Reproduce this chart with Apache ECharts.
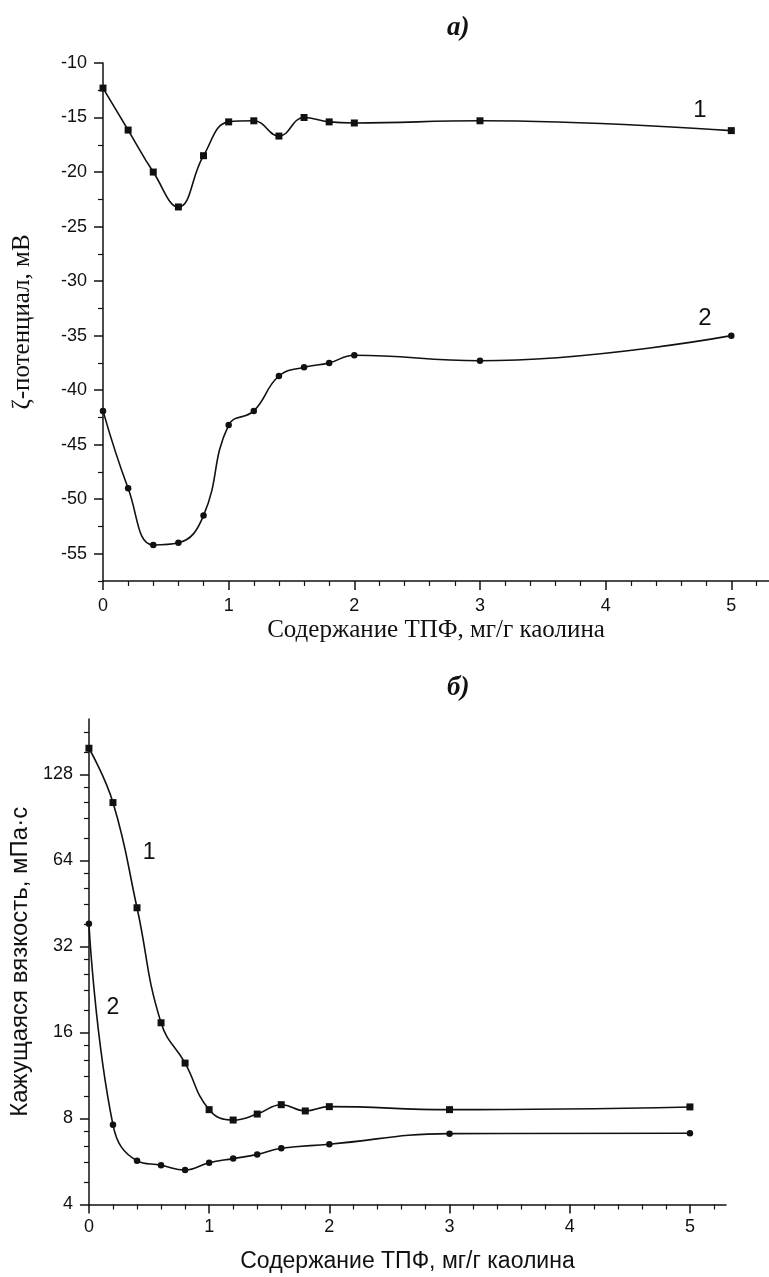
<!DOCTYPE html>
<html>
<head>
<meta charset="utf-8">
<script src="https://cdn.jsdelivr.net/npm/echarts@6/dist/echarts.min.js"></script>
<style>
html,body{margin:0;padding:0;background:#fff;}
#chart{width:769px;height:1277px;}
</style>
</head>
<body>
<div id="chart"></div>
<script>
// ---- data ----
const doseX = [0, 0.2, 0.4, 0.6, 0.8, 1.0, 1.2, 1.4, 1.6, 1.8, 2, 3, 5];
const zeta1 = [-12.3, -16.15, -20.0, -23.2, -18.5, -15.4, -15.3, -16.7, -15.0, -15.4, -15.5, -15.3, -16.2];
const zeta2 = [-41.9, -49.0, -54.2, -54.0, -51.5, -43.2, -41.9, -38.7, -37.9, -37.5, -36.8, -37.3, -35.0];
const viscX1 = [0, 0.2, 0.4, 0.6, 0.8, 1.0, 1.2, 1.4, 1.6, 1.8, 2, 3, 5];
const visc1 = [158, 102, 43.7, 17.3, 12.5, 8.59, 7.9, 8.29, 8.94, 8.5, 8.8, 8.59, 8.78];
const viscX2 = [0, 0.2, 0.4, 0.6, 0.8, 1.0, 1.2, 1.4, 1.6, 2, 3, 5];
const visc2 = [38.4, 7.6, 5.69, 5.49, 5.28, 5.6, 5.79, 5.99, 6.29, 6.5, 7.08, 7.1];

const xMajor = [0, 1, 2, 3, 4, 5];
const xMinor = [0.2, 0.4, 0.6, 0.8, 1.2, 1.4, 1.6, 1.8, 2.2, 2.4, 2.6, 2.8, 3.2, 3.4, 3.6, 3.8, 4.2, 4.4, 4.6, 4.8, 5.2];
const zetaMajor = [-55, -50, -45, -40, -35, -30, -25, -20, -15, -10];
const zetaMinor = [-57.5, -52.5, -47.5, -42.5, -37.5, -32.5, -27.5, -22.5, -17.5, -12.5];
const viscMajor = [4, 8, 16, 32, 64, 128];
const viscMinor = [4.8, 5.6, 6.4, 7.2, 9.6, 11.2, 12.8, 14.4, 19.2, 22.4, 25.6, 28.8, 38.4, 44.8, 51.2, 57.6, 76.8, 89.6, 102.4, 115.2, 153.6, 179.2];

const curveLabelsTop = [{name: '1', coord: [4.75, -14.3]}, {name: '2', coord: [4.79, -33.4]}];
const curveLabelsBottom = [{name: '1', coord: [0.5, 68]}, {name: '2', coord: [0.2, 19.6]}];

const SERIF = '"Liberation Serif", "Times New Roman", serif';
const SANS = '"Liberation Sans", Arial, sans-serif';
const INK = '#111';

function pairs(xs, ys) { return xs.map((x, i) => [x, ys[i]]); }

function xAxes(gridIndex, nameFont, nameGap, labelMargin) {
  return [
    {
      type: 'value', gridIndex, position: 'bottom', min: 0, max: 5.3,
      name: 'Содержание ТПФ, мг/г каолина', nameLocation: 'middle', nameGap,
      nameTextStyle: {fontFamily: nameFont, fontSize: nameFont === SERIF ? 25 : 23, color: INK},
      axisLine: {show: true, onZero: false, lineStyle: {color: INK, width: 1.5}},
      axisTick: {show: true, customValues: xMajor, length: 9, lineStyle: {color: INK, width: 1.5}},
      axisLabel: {customValues: xMajor, margin: labelMargin, fontFamily: SANS, fontSize: 18, color: INK,
                  formatter: v => String(Math.round(v))},
      splitLine: {show: false}
    },
    {
      type: 'value', gridIndex, position: 'bottom', min: 0, max: 5.3,
      axisLine: {show: false, onZero: false},
      axisTick: {show: true, customValues: xMinor, length: 5, lineStyle: {color: INK, width: 1.2}},
      axisLabel: {show: false},
      splitLine: {show: false}
    }
  ];
}

function yMinorAxis(gridIndex, type, min, max, values) {
  const ax = {
    type, gridIndex, position: 'left', min, max,
    axisLine: {show: false, onZero: false},
    axisTick: {show: true, customValues: values, length: 5, lineStyle: {color: INK, width: 1.2}},
    axisLabel: {show: false},
    splitLine: {show: false}
  };
  if (type === 'log') ax.logBase = 2;
  return ax;
}

const titleStyle = {fontFamily: SERIF, fontStyle: 'italic', fontWeight: 'bold', fontSize: 27, color: INK};

const option = {
  animation: false,
  backgroundColor: '#fff',
  title: [
    {text: 'a)', left: 442, top: 10, textStyle: titleStyle},
    {text: 'б)', left: 442, top: 670, textStyle: titleStyle}
  ],
  grid: [
    {left: 103, top: 63, width: 668, height: 518},
    {left: 86, top: 719, width: 640, height: 485.5}
  ],
  xAxis: [].concat(xAxes(0, SERIF, 37, 16), xAxes(1, SANS, 46, 14)),
  yAxis: [
    {
      type: 'value', gridIndex: 0, position: 'left', min: -57.5, max: -10,
      name: 'ζ-потенциал, мВ', nameLocation: 'middle', nameGap: 68,
      nameTextStyle: {fontFamily: SERIF, fontSize: 25, color: INK},
      axisLine: {show: true, onZero: false, lineStyle: {color: INK, width: 1.5}},
      axisTick: {show: true, customValues: zetaMajor, length: 9, lineStyle: {color: INK, width: 1.5}},
      axisLabel: {customValues: zetaMajor, margin: 16, fontFamily: SANS, fontSize: 18, color: INK},
      splitLine: {show: false}
    },
    yMinorAxis(0, 'value', -57.5, -10, zetaMinor),
    {
      type: 'log', logBase: 2, gridIndex: 1, position: 'left', min: 4, max: 200,
      name: 'Кажущаяся вязкость, мПа·с', nameLocation: 'middle', nameGap: 51,
      nameTextStyle: {fontFamily: SANS, fontSize: 24, color: INK},
      axisLine: {show: true, onZero: false, lineStyle: {color: INK, width: 1.5}},
      axisTick: {show: true, customValues: viscMajor, length: 9, lineStyle: {color: INK, width: 1.5}},
      axisLabel: {customValues: viscMajor, margin: 16, fontFamily: SANS, fontSize: 18, color: INK,
                  formatter: v => String(Math.round(v))},
      splitLine: {show: false}
    },
    yMinorAxis(1, 'log', 4, 200, viscMinor)
  ],
  series: [
    {
      type: 'line', xAxisIndex: 0, yAxisIndex: 0, data: pairs(doseX, zeta1), smooth: 0.45,
      symbol: 'rect', symbolSize: 7, itemStyle: {color: INK}, lineStyle: {color: INK, width: 1.6},
      markPoint: {symbolSize: 0, label: {show: true, formatter: '{b}', fontFamily: SANS, fontSize: 24, color: INK},
                  data: [curveLabelsTop[0]]}
    },
    {
      type: 'line', xAxisIndex: 0, yAxisIndex: 0, data: pairs(doseX, zeta2), smooth: 0.45,
      symbol: 'circle', symbolSize: 6.5, itemStyle: {color: INK}, lineStyle: {color: INK, width: 1.6},
      markPoint: {symbolSize: 0, label: {show: true, formatter: '{b}', fontFamily: SANS, fontSize: 24, color: INK},
                  data: [curveLabelsTop[1]]}
    },
    {
      type: 'line', xAxisIndex: 2, yAxisIndex: 2, data: pairs(viscX1, visc1), smooth: 0.45,
      symbol: 'rect', symbolSize: 7, itemStyle: {color: INK}, lineStyle: {color: INK, width: 1.6},
      markPoint: {symbolSize: 0, label: {show: true, formatter: '{b}', fontFamily: SANS, fontSize: 23, color: INK},
                  data: [curveLabelsBottom[0]]}
    },
    {
      type: 'line', xAxisIndex: 2, yAxisIndex: 2, data: pairs(viscX2, visc2), smooth: 0.45,
      symbol: 'circle', symbolSize: 6.5, itemStyle: {color: INK}, lineStyle: {color: INK, width: 1.6},
      markPoint: {symbolSize: 0, label: {show: true, formatter: '{b}', fontFamily: SANS, fontSize: 23, color: INK},
                  data: [curveLabelsBottom[1]]}
    }
  ]
};

const chart = echarts.init(document.getElementById('chart'), null, {renderer: 'canvas'});
chart.setOption(option);
</script>
</body>
</html>
